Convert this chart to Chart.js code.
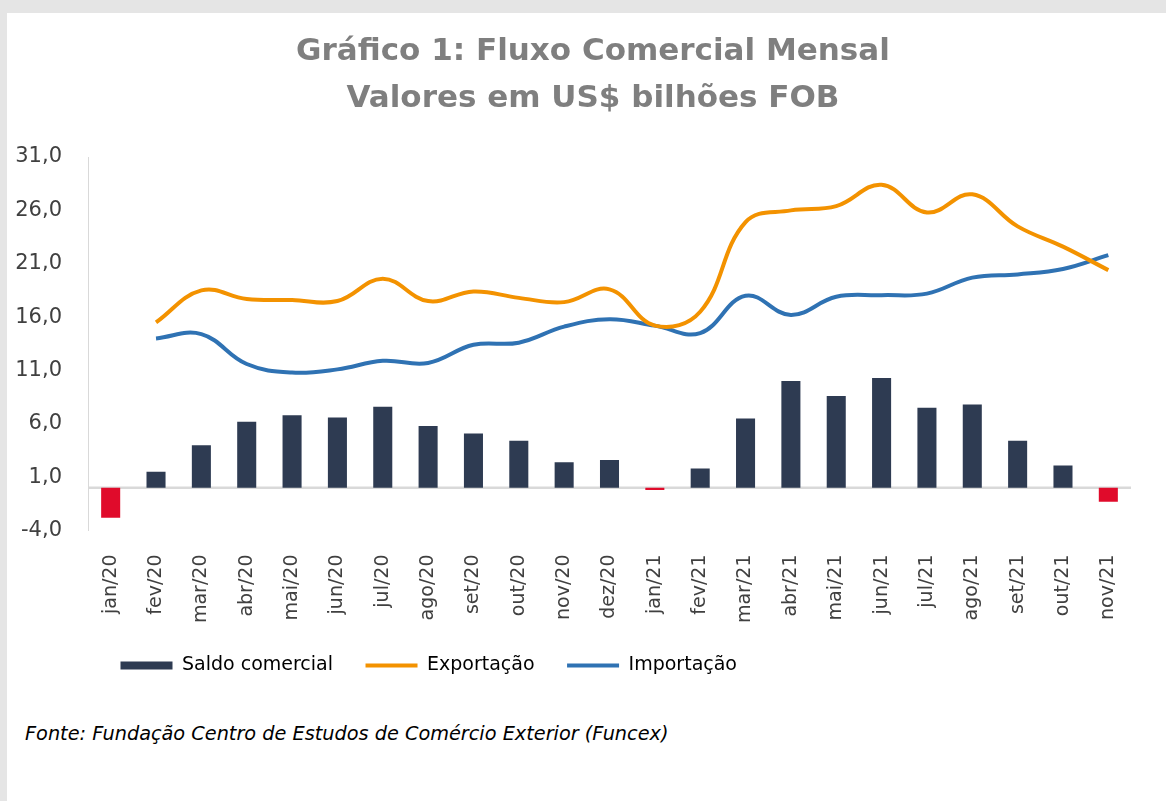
<!DOCTYPE html>
<html lang="pt-BR">
<head>
<meta charset="utf-8">
<title>Fluxo Comercial Mensal</title>
<script src="https://cdn.jsdelivr.net/npm/chart.js@4.4.1/dist/chart.umd.min.js"></script>
<style>
  html, body { margin: 0; padding: 0; }
  body { width: 1166px; height: 801px; background: #e5e5e5; position: relative; overflow: hidden; }
  #panel { position: absolute; left: 7px; top: 13px; width: 1159px; height: 788px; background: #ffffff; }
  #wrap { position: absolute; left: 0; top: 0; width: 1159px; height: 672px; }
  #titulo {
    position: absolute; left: 0; top: 26px; width: 1186px;
    text-align: center; color: #7f7f7f;
    font: bold 31px/47px "DejaVu Sans", sans-serif;
    white-space: nowrap;
  }
  #fonte {
    position: absolute; left: 18px; top: 710px;
    font: italic 19.3px/22px "DejaVu Sans", sans-serif; color: #000;
    white-space: nowrap;
  }
</style>
</head>
<body>
<div id="panel">
  <div id="wrap"><canvas id="fluxo" width="1159" height="672"></canvas></div>
  <div id="fonte">Fonte: Fundação Centro de Estudos de Comércio Exterior (Funcex)</div>
</div>
<div id="titulo">Gráfico 1: Fluxo Comercial Mensal<br>Valores em US$ bilhões FOB</div>
<script>
// months jan/20 .. nov/21
const meses = ['jan/20', 'fev/20', 'mar/20', 'abr/20', 'mai/20', 'jun/20', 'jul/20', 'ago/20',
  'set/20', 'out/20', 'nov/20', 'dez/20', 'jan/21', 'fev/21', 'mar/21', 'abr/21', 'mai/21',
  'jun/21', 'jul/21', 'ago/21', 'set/21', 'out/21', 'nov/21'];

// US$ bilhões FOB
const saldo = [-2.8, 1.5, 4.0, 6.2, 6.8, 6.6, 7.6, 5.8, 5.1, 4.4, 2.4, 2.6, -0.2, 1.8,
  6.5, 10.0, 8.6, 10.3, 7.5, 7.8, 4.4, 2.1, -1.3];
const exportacao = [null, 15.5, 18.5, 17.7, 17.6, 17.5, 19.6, 17.5, 18.4, 17.8, 17.4, 18.6,
  15.2, 16.5, 24.9, 26.0, 26.4, 28.4, 25.8, 27.5, 24.5, 22.6, 20.4];
const importacao = [null, 14.0, 14.4, 11.6, 10.8, 11.1, 11.9, 11.7, 13.4, 13.6, 15.1, 15.8,
  15.2, 14.5, 18.0, 16.2, 17.9, 18.05, 18.2, 19.7, 20.0, 20.5, 21.8];

const NAVY = '#2e3b52';
const RED = '#e00b2b';
const ORANGE = '#f39200';
const BLUE = '#2f72b3';
const AXIS_GREY = '#d9d9d9';
const FONT = '"DejaVu Sans", sans-serif';

// light line at zero, Excel style
const zeroLine = {
  id: 'zeroLine',
  beforeDatasetsDraw(chart) {
    const { ctx, chartArea, scales } = chart;
    const y = scales.y.getPixelForValue(0);
    ctx.save();
    ctx.strokeStyle = AXIS_GREY;
    ctx.lineWidth = 2.5;
    ctx.beginPath();
    ctx.moveTo(chartArea.left, y);
    ctx.lineTo(chartArea.right, y);
    ctx.stroke();
    ctx.restore();
  }
};

new Chart(document.getElementById('fluxo'), {
  type: 'bar',
  data: {
    labels: meses,
    datasets: [
      {
        type: 'bar',
        label: 'Saldo comercial',
        data: saldo,
        backgroundColor: ctx => (ctx.raw < 0 ? RED : NAVY),
        borderWidth: 0,
        categoryPercentage: 1,
        barPercentage: 0.42
      },
      {
        type: 'line',
        label: 'Exportação',
        data: exportacao,
        borderColor: ORANGE,
        backgroundColor: ORANGE,
        borderWidth: 4,
        tension: 0.4,
        pointRadius: 0,
        fill: false
      },
      {
        type: 'line',
        label: 'Importação',
        data: importacao,
        borderColor: BLUE,
        backgroundColor: BLUE,
        borderWidth: 4,
        tension: 0.4,
        pointRadius: 0,
        fill: false
      }
    ]
  },
  options: {
    responsive: false,
    animation: false,
    layout: { padding: { left: 0, right: 35, top: 144, bottom: 0 } },
    plugins: {
      title: { display: false },
      legend: {
        position: 'bottom',
        align: 'start',
        fullSize: false,
        labels: {
          color: '#000',
          font: { family: FONT, size: 19 },
          padding: 32.5,
          usePointStyle: true,
          pointStyleWidth: 52,
          boxHeight: 8,
          generateLabels(chart) {
            const items = Chart.defaults.plugins.legend.labels.generateLabels(chart);
            items[0].fillStyle = NAVY;
            items[0].strokeStyle = NAVY;
            items[0].pointStyle = 'rect';
            items[0].lineWidth = 0;
            items[1].pointStyle = 'line';
            items[2].pointStyle = 'line';
            return items;
          }
        }
      },
      tooltip: { enabled: false }
    },
    scales: {
      x: {
        grid: { display: false },
        border: { display: false },
        ticks: {
          autoSkip: false,
          maxRotation: 90,
          minRotation: 90,
          padding: 16,
          color: '#404040',
          font: { family: FONT, size: 19 }
        },
        afterFit(scale) { scale.height = 93; }
      },
      y: {
        min: -4,
        max: 31,
        grid: { display: false, drawTicks: false },
        border: { display: true, color: AXIS_GREY, width: 1 },
        ticks: {
          stepSize: 5,
          padding: 26,
          color: '#404040',
          font: { family: FONT, size: 21 },
          callback: v => v.toFixed(1).replace('.', ',')
        },
        afterFit(scale) { scale.width = 81; }
      }
    }
  },
  plugins: [zeroLine]
});
</script>
</body>
</html>
